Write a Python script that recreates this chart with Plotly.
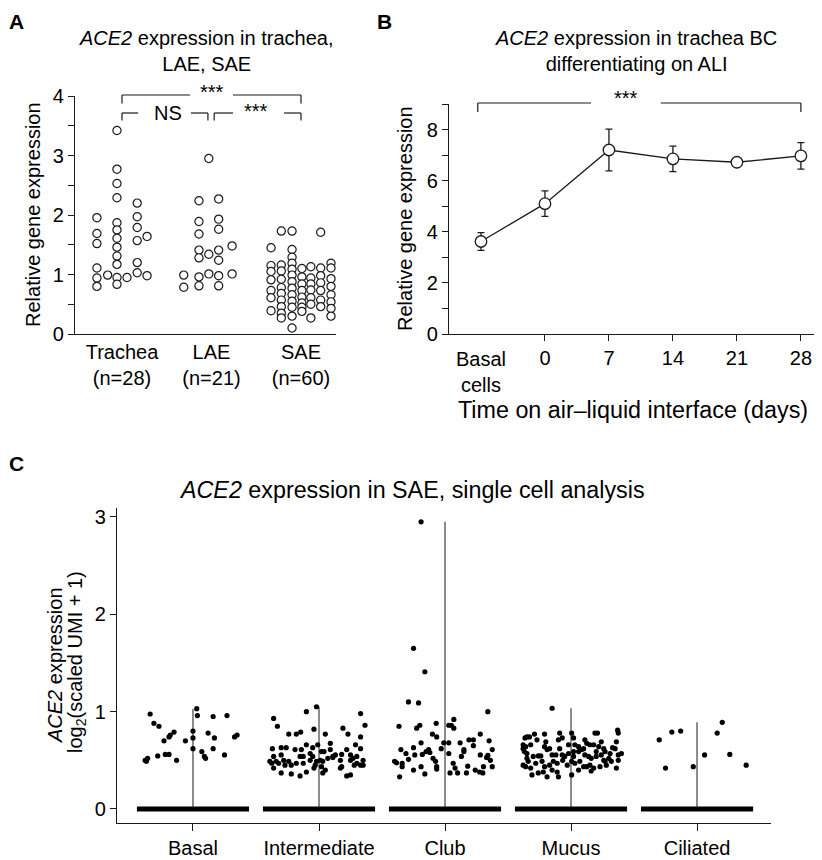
import plotly.graph_objects as go

# ---------------- Panel A: ACE2 in trachea / LAE / SAE ----------------
a_categories = ["Trachea<br>(n=28)", "LAE<br>(n=21)", "SAE<br>(n=60)"]

trachea_values = [1.955, 1.69, 1.52, 1.11, 0.94, 0.80,
                  0.99,
                  3.42, 2.77, 2.53, 2.29, 1.87, 1.75, 1.61, 1.46, 1.31, 1.17, 0.95, 0.835,
                  0.95,
                  2.20, 1.97, 1.79, 1.57, 1.20, 1.03,
                  1.64, 0.98]
trachea_jitter = [-0.28, -0.28, -0.28, -0.28, -0.28, -0.28,
                  -0.16,
                  -0.056, -0.056, -0.056, -0.056, -0.056, -0.056, -0.056, -0.056, -0.056, -0.056, -0.056, -0.056,
                  0.056,
                  0.17, 0.17, 0.17, 0.17, 0.17, 0.17,
                  0.28, 0.28]

lae_values = [0.99, 0.785,
              2.24, 1.89, 1.68, 1.41, 1.28, 0.96, 0.81,
              2.95, 1.34, 1.01,
              2.27, 1.93, 1.76, 1.41, 1.24, 0.98, 0.81,
              1.48, 1.01]
lae_jitter = [-0.31, -0.31,
              -0.14, -0.14, -0.14, -0.14, -0.14, -0.14, -0.14,
              -0.03, -0.03, -0.03,
              0.08, 0.08, 0.08, 0.08, 0.08, 0.08, 0.08,
              0.23, 0.23]

sae_values = [1.45, 1.15, 1.05, 0.91, 0.73, 0.61, 0.39,
              1.73, 1.16, 1.06, 0.92, 0.78, 0.68, 0.57, 0.46, 0.35, 0.27,
              1.73, 1.42, 1.29, 1.19, 1.09, 0.99, 0.88, 0.77, 0.66, 0.55, 0.45, 0.30, 0.10,
              1.10, 0.96, 0.84, 0.73, 0.62, 0.52, 0.45, 0.38,
              1.13, 0.94, 0.84, 0.74, 0.61, 0.50, 0.27,
              1.71, 1.11, 0.98, 0.86, 0.73, 0.57, 0.46,
              1.19, 1.11, 0.93, 0.80, 0.66, 0.54, 0.43, 0.30]
sae_jitter = [-0.335, -0.335, -0.335, -0.335, -0.335, -0.335, -0.335,
              -0.22, -0.22, -0.22, -0.22, -0.22, -0.22, -0.22, -0.22, -0.22, -0.22,
              -0.10, -0.10, -0.10, -0.10, -0.10, -0.10, -0.10, -0.10, -0.10, -0.10, -0.10, -0.10, -0.10,
              0.01, 0.01, 0.01, 0.01, 0.01, 0.01, 0.01, 0.01,
              0.11, 0.11, 0.11, 0.11, 0.11, 0.11, 0.11,
              0.22, 0.22, 0.22, 0.22, 0.22, 0.22, 0.22,
              0.335, 0.335, 0.335, 0.335, 0.335, 0.335, 0.335, 0.335]

# ---------------- Panel B: trachea BC on ALI ----------------
b_timepoints = ["Basal<br>cells", "0", "7", "14", "21", "28"]
b_mean = [3.62, 5.10, 7.20, 6.85, 6.72, 6.97]
b_sem = [0.35, 0.50, 0.82, 0.50, 0.10, 0.52]

# ---------------- Panel C: single cell SAE ----------------
c_celltypes = ["Basal", "Intermediate", "Club", "Mucus", "Ciliated"]

basal_jitter = [-0.34, -0.31, -0.27, -0.23, -0.19, -0.18, -0.15, -0.06, 0.0, 0.0,
                0.0, 0.03, 0.035, 0.07, 0.09, 0.10, 0.12, 0.16, 0.17, 0.16,
                0.25, 0.27, 0.33, 0.35, -0.38, -0.37, -0.36, -0.28, -0.22, -0.19,
                -0.13]
basal_expr = [0.976, 0.88, 0.85, 0.70, 0.74, 0.76, 0.79, 0.70, 0.80, 0.73,
              0.62, 1.03, 0.96, 0.59, 0.54, 0.52, 0.78, 0.95, 0.73, 0.62,
              0.555, 0.96, 0.74, 0.76, 0.50, 0.49, 0.52, 0.545, 0.56, 0.56,
              0.50]

intermediate_jitter = [-0.36, -0.33, -0.10, -0.02, -0.04, -0.24, -0.18, -0.145, 0.05, 0.19,
                       0.23, 0.33, 0.365, 0.33, 0.29, 0.33, -0.37, -0.30, -0.26, -0.19,
                       -0.10, -0.05, -0.01, 0.04, 0.09, 0.09, 0.13, 0.11, 0.18, 0.25,
                       0.30, 0.35, -0.36, -0.34, -0.30, -0.28, -0.24, -0.22, -0.15, -0.125,
                       -0.07, -0.05, -0.03, 0.01, 0.03, 0.02, 0.07, 0.17, 0.18, 0.25,
                       0.27, 0.28, 0.33, 0.35, 0.30, -0.375, -0.36, -0.30, -0.22, -0.15,
                       -0.10, -0.04, 0.05, 0.17, 0.22, 0.25, -0.27, -0.32, -0.39, -0.18,
                       -0.125, -0.02, 0.11, 0.02, -0.14, 0.22, -0.07, 0.03]
intermediate_expr = [0.93, 0.85, 1.00, 1.05, 0.82, 0.77, 0.77, 0.79, 0.77, 0.83,
                     0.77, 0.98, 0.86, 0.74, 0.66, 0.62, 0.62, 0.63, 0.63, 0.61,
                     0.66, 0.63, 0.66, 0.59, 0.675, 0.61, 0.555, 0.53, 0.56, 0.555,
                     0.54, 0.50, 0.54, 0.49, 0.555, 0.50, 0.49, 0.45, 0.54, 0.54,
                     0.50, 0.54, 0.45, 0.50, 0.49, 0.435, 0.52, 0.50, 0.435, 0.50,
                     0.52, 0.45, 0.45, 0.45, 0.47, 0.47, 0.42, 0.37, 0.36, 0.34,
                     0.38, 0.42, 0.40, 0.42, 0.34, 0.35, 0.45, 0.47, 0.49, 0.47,
                     0.47, 0.49, 0.54, 0.59, 0.61, 0.61, 0.57, 0.37]

club_jitter = [-0.19, -0.25, -0.16, -0.29, -0.21, 0.34, -0.365, -0.225, -0.20, -0.07,
               0.03, 0.05, 0.07, 0.07, -0.10, -0.066, 0.28, 0.19, 0.225, 0.35,
               -0.19, -0.01, 0.03, 0.12, 0.225, -0.25, -0.35, -0.13, -0.03, 0.15,
               0.375, -0.31, -0.24, -0.18, -0.15, -0.12, 0.03, 0.15, -0.095, -0.075,
               0.13, 0.28, 0.33, 0.36, 0.34, -0.29, -0.40, -0.385, -0.34, -0.34,
               -0.25, -0.19, -0.16, -0.066, -0.066, 0.065, 0.08, 0.04, 0.10, 0.17,
               0.18, 0.24, 0.275, 0.30, 0.305, 0.375, -0.36]
club_expr = [2.95, 1.65, 1.41, 1.10, 1.09, 1.00, 0.85, 0.83, 0.86, 0.88,
             0.86, 0.86, 0.92, 0.83, 0.77, 0.74, 0.77, 0.71, 0.71, 0.70,
             0.68, 0.68, 0.68, 0.68, 0.65, 0.63, 0.61, 0.61, 0.62, 0.61,
             0.61, 0.57, 0.555, 0.56, 0.59, 0.58, 0.57, 0.59, 0.52, 0.49,
             0.54, 0.555, 0.53, 0.50, 0.55, 0.51, 0.49, 0.475, 0.47, 0.435,
             0.40, 0.435, 0.36, 0.435, 0.41, 0.47, 0.42, 0.37, 0.37, 0.37,
             0.44, 0.40, 0.38, 0.37, 0.435, 0.435, 0.33]

mucus_jitter = [-0.15, -0.365, -0.35, -0.33, -0.29, -0.21, -0.27, -0.20, -0.09, 0.005,
                -0.07, -0.10, 0.02, 0.11, 0.19, 0.21, 0.24, 0.37, 0.375, 0.36,
                -0.38, -0.38, -0.36, -0.32, -0.21, -0.19, -0.17, -0.09, -0.02, 0.03,
                0.06, 0.125, 0.15, 0.18, 0.22, 0.26, 0.33, 0.40, -0.37, -0.35,
                -0.30, -0.26, -0.24, -0.15, -0.12, -0.07, -0.05, -0.02, 0.02, 0.06,
                0.085, 0.11, 0.14, 0.16, 0.20, 0.24, 0.27, 0.31, 0.35, 0.375,
                -0.35, -0.34, -0.38, -0.36, -0.32, -0.28, -0.23, -0.21, -0.17, -0.14,
                -0.11, -0.066, -0.03, 0.005, 0.03, 0.07, 0.10, 0.15, 0.18, 0.23,
                0.27, 0.28, 0.32, 0.375, 0.36, -0.31, -0.26, -0.19, -0.15, -0.11,
                -0.10, 0.005, 0.06, 0.125, 0.16, 0.26, 0.30, 0.02, 0.10, 0.20,
                -0.22]
mucus_expr = [1.035, 0.73, 0.74, 0.74, 0.77, 0.77, 0.71, 0.69, 0.78, 0.78,
              0.73, 0.71, 0.73, 0.71, 0.78, 0.78, 0.69, 0.81, 0.78, 0.69,
              0.66, 0.62, 0.64, 0.66, 0.64, 0.61, 0.62, 0.62, 0.66, 0.66,
              0.64, 0.675, 0.66, 0.66, 0.64, 0.62, 0.63, 0.57, 0.59, 0.57,
              0.54, 0.545, 0.545, 0.555, 0.555, 0.555, 0.54, 0.57, 0.59, 0.59,
              0.61, 0.555, 0.54, 0.52, 0.54, 0.555, 0.59, 0.57, 0.62, 0.555,
              0.52, 0.49, 0.45, 0.435, 0.42, 0.47, 0.49, 0.435, 0.45, 0.49,
              0.47, 0.50, 0.45, 0.49, 0.47, 0.49, 0.435, 0.45, 0.42, 0.435,
              0.49, 0.45, 0.49, 0.50, 0.42, 0.35, 0.37, 0.33, 0.40, 0.38,
              0.33, 0.35, 0.40, 0.435, 0.39, 0.50, 0.52, 0.54, 0.62, 0.59,
              0.38]

ciliated_jitter = [-0.30, -0.25, -0.20, -0.13, -0.03, 0.06, 0.16, 0.20, 0.26, 0.39]
ciliated_expr = [0.71, 0.42, 0.79, 0.80, 0.435, 0.555, 0.78, 0.89, 0.56, 0.45]

# ---------------- styling ----------------
FONT = "Liberation Sans, Arial, Helvetica, sans-serif"
FS = 20
FS_BIG = 23.3
INK = "#1a1a1a"
PAGE_W, PAGE_H = 822, 860
OFF = 8  # the page body margin offsets the figure by this much
W, H = PAGE_W - OFF, PAGE_H - OFF
BAND_HALF = 0.445


def px_x(p):
    """page pixel -> paper x"""
    return (p - OFF) / W


def px_y(p):
    """page pixel -> paper y"""
    return 1 - (p - OFF) / H


fig = go.Figure()

# Panel A traces
for pos, (vals, jit) in enumerate([(trachea_values, trachea_jitter),
                                   (lae_values, lae_jitter),
                                   (sae_values, sae_jitter)]):
    fig.add_trace(go.Scatter(
        x=[pos + j for j in jit], y=vals, mode="markers",
        marker=dict(symbol="circle", size=8.2, color="white",
                    line=dict(color=INK, width=1.2)),
        cliponaxis=False, xaxis="x", yaxis="y", hoverinfo="skip"))

# Panel B trace
fig.add_trace(go.Scatter(
    x=list(range(len(b_timepoints))), y=b_mean, mode="lines+markers",
    line=dict(color=INK, width=1.3),
    marker=dict(symbol="circle", size=11.5, color="white", line=dict(color=INK, width=1.3)),
    error_y=dict(type="data", array=b_sem, visible=True, color=INK, thickness=1.3, width=3.5),
    cliponaxis=False, xaxis="x2", yaxis="y2", hoverinfo="skip"))

# Panel C traces
c_groups = [(basal_jitter, basal_expr), (intermediate_jitter, intermediate_expr),
            (club_jitter, club_expr), (mucus_jitter, mucus_expr),
            (ciliated_jitter, ciliated_expr)]
for i, (jit, ex) in enumerate(c_groups):
    fig.add_trace(go.Scatter(x=[i, i], y=[0, max(ex)], mode="lines",
                             line=dict(color="#707070", width=1.6),
                             xaxis="x3", yaxis="y3", hoverinfo="skip"))
    fig.add_trace(go.Scatter(x=[i - BAND_HALF, i + BAND_HALF], y=[0, 0], mode="lines",
                             line=dict(color="black", width=5),
                             xaxis="x3", yaxis="y3", hoverinfo="skip"))
    fig.add_trace(go.Scatter(x=[i + j for j in jit], y=ex, mode="markers",
                             marker=dict(color="black", size=5.2),
                             cliponaxis=False, xaxis="x3", yaxis="y3", hoverinfo="skip"))

axis_common = dict(showgrid=False, zeroline=False, showline=True, linecolor=INK,
                   linewidth=1.3, tickcolor=INK, tickwidth=1.2, automargin=False,
                   tickfont=dict(family=FONT, size=FS, color="black"))

fig.update_layout(
    template="none",
    width=W, height=H, margin=dict(l=0, r=0, t=0, b=0, pad=0, autoexpand=False),
    paper_bgcolor="white", plot_bgcolor="white", showlegend=False,
    font=dict(family=FONT, size=FS, color="black"),
    xaxis=dict(domain=[px_x(75), px_x(336)], range=[-0.525, 2.391], anchor="y",
               tickmode="array", tickvals=[0, 1, 2], ticktext=a_categories, ticks="",
               **axis_common),
    yaxis=dict(domain=[px_y(334), px_y(96)], range=[0, 4], anchor="x",
               tick0=0, dtick=1, ticks="outside", ticklen=6,
               minor=dict(tick0=0, dtick=0.5, ticks="outside", ticklen=6,
                          tickcolor=INK, tickwidth=1.2),
               **axis_common),
    xaxis2=dict(domain=[px_x(449), 1.0], range=[-0.5, 5.33], anchor="y2",
                tickmode="array", tickvals=[1, 2, 3, 4, 5], ticktext=b_timepoints[1:],
                ticks="outside", ticklen=6, **axis_common),
    yaxis2=dict(domain=[px_y(334), px_y(104)], range=[0, 9], anchor="x2",
                tick0=0, dtick=2, ticks="outside", ticklen=6,
                minor=dict(tick0=0, dtick=1, ticks="outside", ticklen=6,
                           tickcolor=INK, tickwidth=1.2),
                **axis_common),
    xaxis3=dict(domain=[px_x(117), px_x(771)], range=[-0.603, 4.587], anchor="y3",
                tickmode="array", tickvals=list(range(len(c_celltypes))), ticktext=c_celltypes,
                ticks="outside", ticklen=7, **axis_common),
    yaxis3=dict(domain=[px_y(823), px_y(508)], range=[-0.144, 3.092], anchor="x3",
                tickmode="array", tickvals=[0, 1, 2, 3], ticks="outside", ticklen=6,
                **axis_common),
)


def bracket(xref, x0, x1, y, drop, gap_lo, gap_hi):
    ln = dict(color=INK, width=1.2)
    return [
        dict(type="line", xref=xref, yref="paper", x0=x0, x1=x0, y0=y - drop, y1=y, line=ln),
        dict(type="line", xref=xref, yref="paper", x0=x0, x1=gap_lo, y0=y, y1=y, line=ln),
        dict(type="line", xref=xref, yref="paper", x0=gap_hi, x1=x1, y0=y, y1=y, line=ln),
        dict(type="line", xref=xref, yref="paper", x0=x1, x1=x1, y0=y - drop, y1=y, line=ln),
    ]


shapes = []
shapes += bracket("x", 0, 2, px_y(95), 8.5 / H, 0.76, 1.24)
shapes += bracket("x", 0, 0.96, px_y(113), 7.5 / H, 0.18, 0.77)
shapes += bracket("x", 1.03, 2, px_y(113), 7.5 / H, 1.24, 1.81)
shapes += bracket("x2", -0.05, 5, px_y(103), 9 / H, 1.72, 2.81)
fig.update_layout(shapes=shapes)


def ann(text, x, y, xref="paper", size=FS, angle=0, bold=False, yanchor="middle"):
    if bold:
        text = "<b>" + text + "</b>"
    return dict(text=text, x=x, y=y, xref=xref, yref="paper", showarrow=False,
                xanchor="center", yanchor=yanchor, textangle=angle,
                font=dict(family=FONT, size=size, color="black"))


annotations = [
    ann("A", px_x(16), px_y(21), size=21, bold=True),
    ann("B", px_x(384), px_y(21), size=21, bold=True),
    ann("C", px_x(16), px_y(463), size=21, bold=True),
    ann("<i>ACE2</i> expression in trachea,<br>LAE, SAE", px_x(206), px_y(50.5)),
    ann("<i>ACE2</i> expression in trachea BC<br>differentiating on ALI", px_x(635.5), px_y(50.5)),
    ann("<i>ACE2</i> expression in SAE, single cell analysis", px_x(411.5), px_y(490), size=FS_BIG),
    ann("Relative gene expression", px_x(33), px_y(215), angle=-90),
    ann("Relative gene expression", px_x(405), px_y(219), angle=-90),
    ann("<i>ACE2</i> expression", px_x(55), px_y(665), angle=-90),
    ann("log<sub>2</sub>(scaled UMI + 1)", px_x(76), px_y(662), angle=-90),
    ann("Time on air\u2013liquid interface (days)", px_x(633), px_y(410), size=FS_BIG),
    ann(b_timepoints[0], 0, px_y(371.5), xref="x2"),
    ann("***", 1.0, px_y(92), xref="x"),
    ann("NS", 0.51, px_y(113), xref="x"),
    ann("***", 1.5, px_y(111), xref="x"),
    ann("***", 2.27, px_y(98), xref="x2"),
]
fig.update_layout(annotations=annotations)

fig.write_html("out.html")
